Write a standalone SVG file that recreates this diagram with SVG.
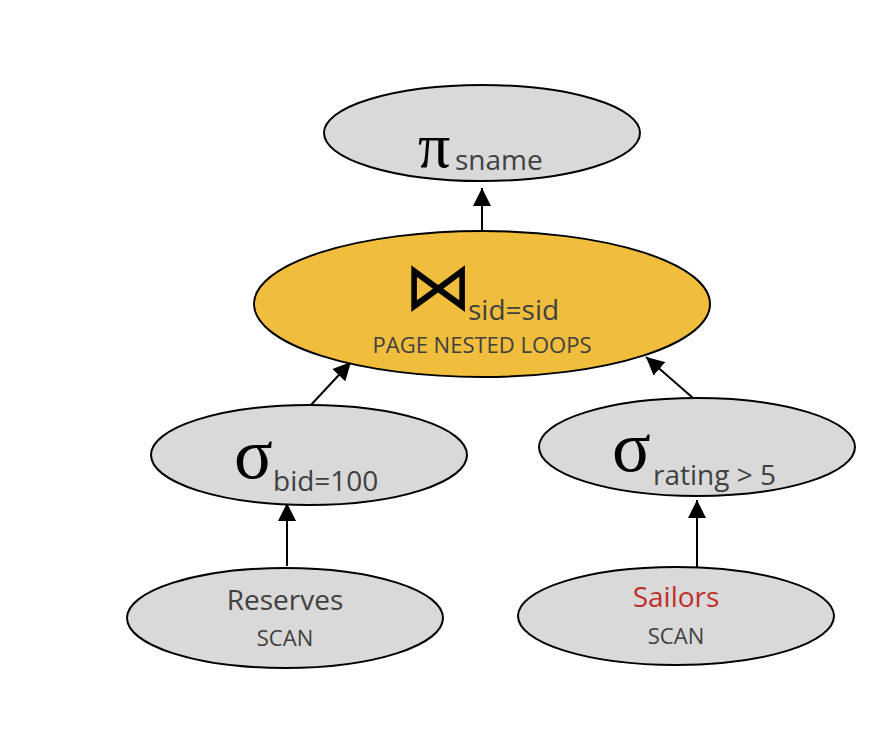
<svg xmlns="http://www.w3.org/2000/svg" width="890" height="734" viewBox="0 0 890 734">
<style>
.n{fill:#d9d9d9;stroke:#000;stroke-width:2}
.j{fill:#f0be3c;stroke:#000;stroke-width:2}
.g{font-family:"Times New Roman","Liberation Serif",serif;fill:#000}
.s{font-family:"Open Sans","Liberation Sans",sans-serif;fill:#404040}
.e{stroke:#000;stroke-width:2;fill:none;marker-end:url(#ah)}
</style>
<defs>
<marker id="ah" markerWidth="18" markerHeight="18" refX="16" refY="8" orient="auto" markerUnits="userSpaceOnUse" viewBox="0 0 16 16">
<path d="M0,0 L16,8 L0,16 z" fill="#000"/>
</marker>
</defs>
<rect width="890" height="734" fill="#fff"/>
<g id="connectors">
<line class="e" x1="482" y1="230" x2="482" y2="188"/>
<line class="e" x1="310" y1="406" x2="351" y2="362"/>
<line class="e" x1="693" y1="398" x2="646" y2="357"/>
<line class="e" x1="287" y1="566" x2="287" y2="503"/>
<line class="e" x1="697" y1="567" x2="697" y2="500"/>
</g>
<g id="project">
<ellipse class="n" cx="482" cy="133" rx="158" ry="48"/>
<text class="g" x="418" y="167" font-size="64">π</text>
<text class="s" x="455" y="170" font-size="28">sname</text>
</g>
<g id="join">
<ellipse class="j" cx="482" cy="304" rx="228" ry="73"/>
<text x="404" y="310" font-size="68" font-family="DejaVu Sans, sans-serif" fill="#000">⋈</text>
<text class="s" x="468" y="320" font-size="28">sid=sid</text>
<text class="s" x="482" y="353" font-size="22" text-anchor="middle">PAGE NESTED LOOPS</text>
</g>
<g id="select-bid">
<ellipse class="n" cx="309" cy="455" rx="158" ry="50"/>
<text class="g" x="234" y="478" font-size="72">σ</text>
<text class="s" x="273" y="491" font-size="28">bid=100</text>
</g>
<g id="select-rating">
<ellipse class="n" cx="697" cy="447" rx="158" ry="49"/>
<text class="g" x="612" y="471" font-size="72">σ</text>
<text class="s" x="653" y="485" font-size="28">rating &gt; 5</text>
</g>
<g id="reserves">
<ellipse class="n" cx="285" cy="618" rx="158" ry="50"/>
<text class="s" x="285" y="610" font-size="28" text-anchor="middle">Reserves</text>
<text class="s" x="285" y="646" font-size="22" text-anchor="middle">SCAN</text>
</g>
<g id="sailors">
<ellipse class="n" cx="676" cy="616" rx="158" ry="49"/>
<text class="s" x="676" y="607" font-size="28" text-anchor="middle" style="fill:#c0302a">Sailors</text>
<text class="s" x="676" y="644" font-size="22" text-anchor="middle">SCAN</text>
</g>
</svg>
